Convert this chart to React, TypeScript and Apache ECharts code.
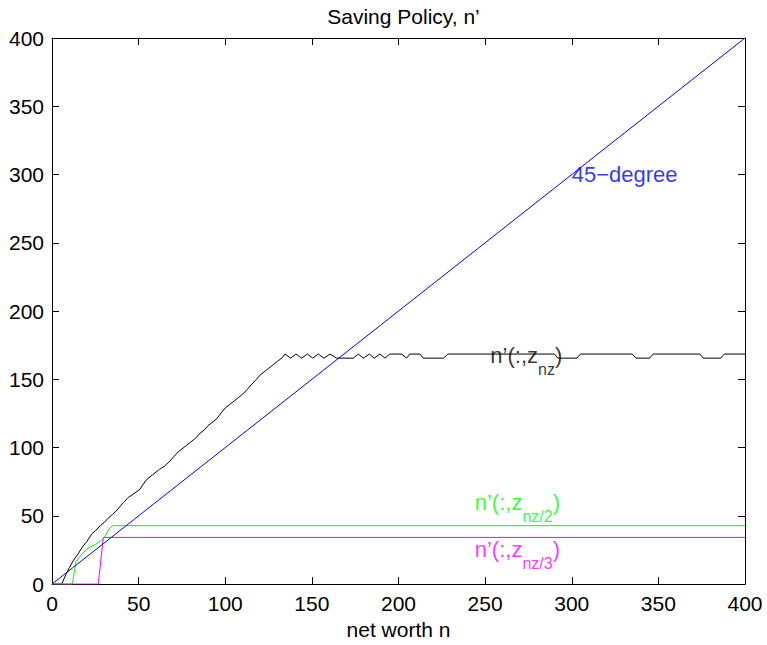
import React, { useEffect, useRef } from "react";
import * as echarts from "echarts";

const xTicks = [0, 50, 100, 150, 200, 250, 300, 350, 400];

// black policy n'(:, z_nz)
const blackN = [0, 5.6, 8, 10, 12.3, 15, 18, 20, 22.9, 25, 28, 30, 33, 35, 38, 41.2, 44, 47, 50.8, 52, 54.7, 58, 62, 65, 68, 70, 73, 75, 78, 80, 83, 85, 88, 90, 93, 95, 98, 100, 103, 105, 108, 110, 113, 115, 118, 120, 123, 125, 128, 130, 133, 134.5,
  137.8, 140.8, 144.1, 147.4, 150.5, 153.7, 157, 160.5, 164.3, 173.9, 176.8, 179.7, 183.2, 186, 189.3, 192.2, 195, 201.8, 204.7, 206.6, 212.4, 214.3, 226, 228.5, 290, 292, 303, 305, 335, 337, 345, 347, 374, 376, 386, 388, 400];
const blackV = [0, 0, 7, 12, 17.3, 22, 28, 31, 36.7, 39, 43, 45, 49, 51, 55, 59.7, 63.4, 66, 69.4, 72, 76.7, 80, 84, 86.5, 90, 93, 97, 99, 102, 104, 107, 110, 113, 116, 119, 121, 126, 129, 132, 134, 137, 139, 143, 146, 150, 153, 156, 158, 161, 163, 166, 168.5,
  165.5, 168.5, 165.5, 168.5, 165.5, 168.5, 165.5, 168.5, 165.5, 165.5, 168.5, 165.5, 168.5, 165.5, 168.5, 165.5, 168.5, 168.5, 165.5, 168.5, 168.5, 165.5, 165.5, 168.5, 168.5, 165.5, 165.5, 168.5, 168.5, 165.5, 165.5, 168.5, 168.5, 165.5, 165.5, 168.5, 168.5];

// green policy n'(:, z_nz/2)
const greenN = [0, 11.7, 13.9, 16, 20, 25, 29.6, 33.5, 35.4, 400];
const greenV = [0, 0, 16.5, 20, 25.7, 29, 33, 41.5, 42.8, 42.8];

// magenta policy n'(:, z_nz/3)
const magentaN = [0, 26.7, 29.6, 400];
const magentaV = [0, 0, 34.2, 34.2];

// 45-degree line
const diagN = [0, 400];
const diagV = [0, 400];

// annotation anchors (data coords)
const lbl45 = [300, 300];
const lblBlack = [253, 167.6];
const lblGreen = [244, 59.7];
const lblMagenta = [244, 25.7];

const FONT = "'Liberation Sans', Arial, Helvetica, sans-serif";

const zip = (a: number[], b: number[]) => a.map((v, i) => [v, b[i]]);

export default function App() {
  const ref = useRef<HTMLDivElement>(null);
  useEffect(() => {
    document.body.style.margin = "0";
    const chart = echarts.init(ref.current!, undefined, { renderer: "svg" });
    const axisCommon = {
      type: "value" as const,
      min: 0,
      max: 400,
      interval: 50,
      axisLine: { show: true, onZero: false, lineStyle: { color: "#000", width: 1 } },
      axisTick: { show: true, inside: true, length: 7, lineStyle: { color: "#000", width: 1 } },
      splitLine: { show: false },
    };
    const richFor = (color: string) => ({
      m: { fontSize: 22, color, fontFamily: FONT },
      s: { fontSize: 16, color, fontFamily: FONT, padding: [28, 0, 0, 0] },
    });
    const labelSeries = (pt: number[], text: string, color: string) => ({
      type: "scatter",
      xAxisIndex: 0,
      yAxisIndex: 0,
      symbolSize: 0,
      silent: true,
      z: 5,
      data: [pt],
      label: {
        show: true,
        position: "right",
        distance: 0,
        formatter: text,
        color,
        fontSize: 22,
        fontFamily: FONT,
        rich: richFor(color),
      },
    });
    chart.setOption({
      animation: false,
      backgroundColor: "#fff",
      title: {
        text: "Saving Policy, n’",
        left: 398.5,
        top: 1,
        textAlign: "center",
        textStyle: { fontSize: 21, fontWeight: "normal", color: "#000", fontFamily: FONT },
      },
      grid: { left: 52, right: 22, top: 38, bottom: 58, containLabel: false },
      xAxis: [
        {
          ...axisCommon,
          position: "bottom",
          name: "net worth n",
          nameLocation: "middle",
          nameGap: 32,
          nameTextStyle: { fontSize: 21, color: "#000", fontFamily: FONT },
          axisLabel: {
            color: "#000", fontSize: 21, fontFamily: FONT, margin: 9,
            formatter: (v: number) => (xTicks.includes(v) ? String(v) : ""),
          },
        },
        { ...axisCommon, position: "top", axisLabel: { show: false } },
      ],
      yAxis: [
        {
          ...axisCommon,
          position: "left",
          axisLabel: { color: "#000", fontSize: 21, fontFamily: FONT, margin: 8 },
        },
        { ...axisCommon, position: "right", axisLabel: { show: false } },
      ],
      series: [
        {
          type: "line", xAxisIndex: 0, yAxisIndex: 0, showSymbol: false, z: 2,
          data: zip(blackN, blackV), lineStyle: { color: "#000000", width: 1 },
        },
        {
          type: "line", xAxisIndex: 0, yAxisIndex: 0, showSymbol: false, z: 2,
          data: zip(greenN, greenV), lineStyle: { color: "#00ff00", width: 1 },
        },
        {
          type: "line", xAxisIndex: 0, yAxisIndex: 0, showSymbol: false, z: 2,
          data: zip(magentaN, magentaV), lineStyle: { color: "#ff00ff", width: 1 },
        },
        {
          type: "line", xAxisIndex: 0, yAxisIndex: 0, showSymbol: false, z: 3,
          data: zip(diagN, diagV), lineStyle: { color: "#0000ff", width: 1 },
        },
        labelSeries(lbl45, "{m|45−degree}", "#0000ff"),
        labelSeries(lblBlack, "{m|n’(:,z}{s|nz}{m|)}", "#000000"),
        labelSeries(lblGreen, "{m|n’(:,z}{s|nz/2}{m|)}", "#00ff00"),
        labelSeries(lblMagenta, "{m|n’(:,z}{s|nz/3}{m|)}", "#ff00ff"),
      ],
    });
    return () => chart.dispose();
  }, []);
  return <div ref={ref} style={{ width: 767, height: 645 }} />;
}
